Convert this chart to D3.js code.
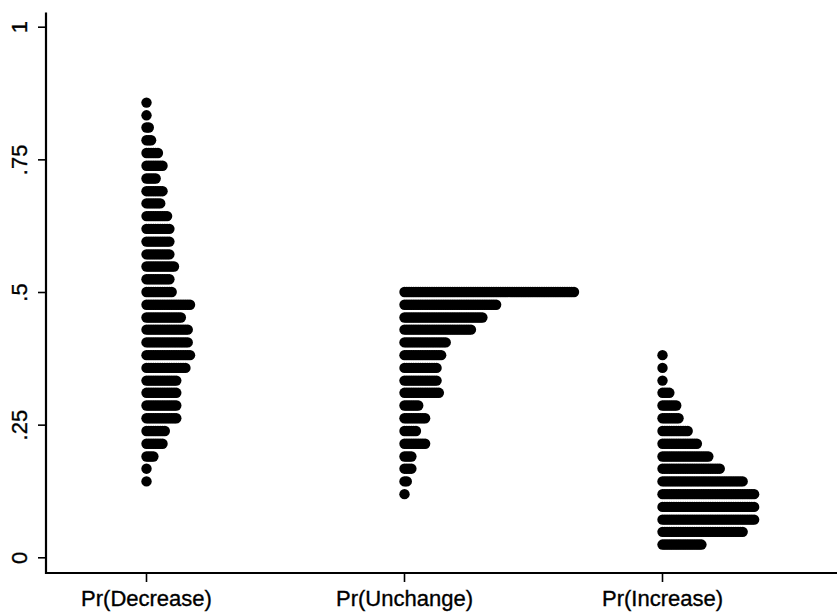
<!DOCTYPE html>
<html>
<head>
<meta charset="utf-8">
<script src="https://cdn.jsdelivr.net/npm/d3@7"></script>
<style>
  body { margin: 0; background: #fff; }
  text { font-family: "Liberation Sans", Arial, sans-serif; fill: #000; stroke: #000; stroke-width: 0.35px; }
</style>
</head>
<body>
<div class="canvas1"></div>
<script>
// categories + tick labels
const categories = ["Pr(Decrease)", "Pr(Unchange)", "Pr(Increase)"];
const yTicks = [0, 0.25, 0.5, 0.75, 1];
const yTickLabels = ["0", ".25", ".5", ".75", "1"];

// dot rows: bin value and number of dots stacked in that row
const decreaseBins = [0.857, 0.833, 0.810, 0.786, 0.762, 0.738, 0.714, 0.690, 0.667, 0.643, 0.619, 0.595, 0.571, 0.548, 0.524, 0.500,
                      0.476, 0.452, 0.429, 0.405, 0.381, 0.357, 0.333, 0.310, 0.286, 0.262, 0.238, 0.214, 0.190, 0.167, 0.143];
const decreaseCounts = [1, 1, 2, 3, 6, 8, 5, 8, 7, 10, 11, 11, 11, 13, 11, 12,
                        20, 16, 19, 19, 20, 18, 14, 14, 14, 14, 9, 8, 4, 1, 1];

const unchangeBins = [0.500, 0.476, 0.452, 0.429, 0.405, 0.381, 0.357, 0.333, 0.310, 0.286, 0.262, 0.238, 0.214, 0.190, 0.167, 0.143, 0.119];
const unchangeCounts = [75, 41, 35, 30, 19, 17, 15, 15, 16, 7, 10, 6, 10, 4, 4, 2, 1];

const increaseBins = [0.381, 0.357, 0.333, 0.310, 0.286, 0.262, 0.238, 0.214, 0.190, 0.167, 0.143, 0.119, 0.095, 0.071, 0.048, 0.024];
const increaseCounts = [1, 1, 1, 4, 7, 8, 12, 16, 21, 26, 36, 41, 41, 41, 36, 18];

const width = 837, height = 612;
const axisX = 46, axisY = 573;

var svg = d3.select(".canvas1").append("svg")
    .attr("width", width)
    .attr("height", height);

// scales
const x = d3.scalePoint().domain(categories).range([146, 662]);
const y = d3.scaleLinear().domain([0, 1]).range([557.3, 26.7]);
const maxCount = d3.max([decreaseCounts, unchangeCounts, increaseCounts], c => d3.max(c));
const dx = d3.scaleLinear().domain([0, maxCount - 1]).range([0, 169.5]);

// flatten rows into single dots
const series = [
  { cat: categories[0], bins: decreaseBins, counts: decreaseCounts },
  { cat: categories[1], bins: unchangeBins, counts: unchangeCounts },
  { cat: categories[2], bins: increaseBins, counts: increaseCounts }
];
const dots = [];
series.forEach(s => {
  s.bins.forEach((v, i) => {
    for (let k = 0; k < s.counts[i]; k++) dots.push({ cat: s.cat, v: v, k: k });
  });
});

svg.append("g")
  .selectAll("circle")
  .data(dots)
  .join("circle")
    .attr("cx", d => x(d.cat) + 0.5 + dx(d.k))
    .attr("cy", d => y(d.v))
    .attr("r", 5.2)
    .style("fill", "#000");

// Y axis
const yAxis = svg.append("g")
    .attr("transform", "translate(" + axisX + ",0)")
    .call(d3.axisLeft(y)
      .tickValues(yTicks)
      .tickFormat((d, i) => yTickLabels[i])
      .tickSize(8)
      .tickSizeOuter(0));
yAxis.select(".domain").remove();
yAxis.selectAll(".tick line").attr("stroke", "#000").attr("stroke-width", 1.6);
yAxis.selectAll(".tick text")
    .attr("transform", "rotate(-90)")
    .attr("x", 0)
    .attr("y", -19)
    .attr("dy", 0)
    .attr("text-anchor", "middle")
    .style("font-size", "22px");

// X axis
const xAxis = svg.append("g")
    .attr("transform", "translate(0," + axisY + ")")
    .call(d3.axisBottom(x).tickSize(9).tickSizeOuter(0));
xAxis.select(".domain").remove();
xAxis.selectAll(".tick line").attr("stroke", "#000").attr("stroke-width", 1.6);
xAxis.selectAll(".tick text")
    .attr("y", 17)
    .attr("dy", "0.71em")
    .style("font-size", "22px");

// axis lines
svg.append("line")
    .attr("x1", axisX).attr("x2", axisX)
    .attr("y1", 12.5).attr("y2", axisY + 1)
    .attr("stroke", "#000").attr("stroke-width", 2.2);
svg.append("line")
    .attr("x1", axisX - 1).attr("x2", width)
    .attr("y1", axisY).attr("y2", axisY)
    .attr("stroke", "#000").attr("stroke-width", 2.2);
</script>
</body>
</html>
